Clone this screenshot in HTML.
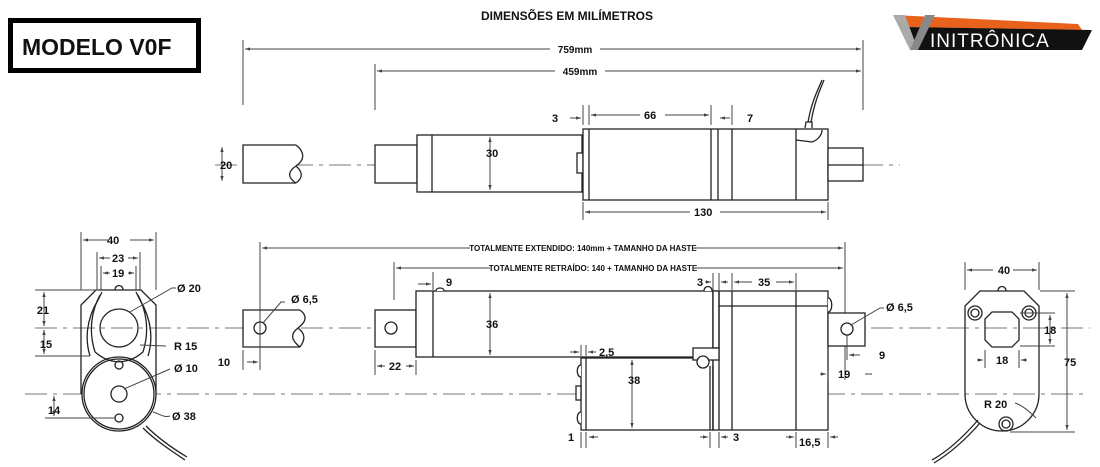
<!DOCTYPE html>
<html><head><meta charset="utf-8"><style>
html,body{margin:0;padding:0;background:#fff}
svg{display:block}
text{font-family:"Liberation Sans",sans-serif;fill:#111}
.d{font-size:11px;font-weight:bold}
</style></head><body>
<svg width="1100" height="467" viewBox="0 0 1100 467" xmlns="http://www.w3.org/2000/svg">
<defs>
<marker id="a" viewBox="0 0 6 6" refX="6" refY="3" markerWidth="5" markerHeight="5" orient="auto-start-reverse"><path d="M0,1 L6,3 L0,5z" fill="#444"/></marker>
</defs>
<!-- Model box -->
<rect x="10.5" y="20.5" width="188" height="50" fill="none" stroke="#000" stroke-width="5"/>
<text x="22" y="55" font-size="23" font-weight="bold">MODELO V0F</text>
<text x="567" y="20" font-size="12" font-weight="bold" text-anchor="middle">DIMENSÕES EM MILÍMETROS</text>
<!-- Logo -->
<polygon points="893,15 1078,24 1082,30 905,27" fill="#e8621c"/>
<polygon points="905,27 1092,30 1082,50 918,50" fill="#111"/>
<polygon points="893,15 905,15 918,50 910,50" fill="#aaa"/>
<polygon points="910,50 925,15 935,15 918,50" fill="#888"/>
<text x="930" y="47" font-size="19" style="fill:#fff" letter-spacing="1">INITRÔNICA</text>

<g stroke="#444" stroke-width="1" fill="none">
<!-- top dims -->
<line x1="243" y1="40" x2="243" y2="105"/><line x1="375" y1="64" x2="375" y2="110"/><line x1="863" y1="40" x2="863" y2="110"/>
<line x1="245" y1="49" x2="550" y2="49" marker-start="url(#a)"/><line x1="600" y1="49" x2="861" y2="49" marker-end="url(#a)"/>
<line x1="377" y1="71" x2="555" y2="71" marker-start="url(#a)"/><line x1="605" y1="71" x2="861" y2="71" marker-end="url(#a)"/>
</g>
<text x="575" y="53" class="d" font-size="10" text-anchor="middle" font-weight="bold" style="font-size:10px">759mm</text>
<text x="580" y="75" class="d" text-anchor="middle" style="font-size:10px">459mm</text>

<!-- centerlines -->
<g stroke="#777" stroke-width="1" stroke-dasharray="22,6,4,6">
<line x1="215" y1="165" x2="900" y2="165"/>
<line x1="35" y1="328" x2="1090" y2="328"/>
<line x1="25" y1="394" x2="1085" y2="394"/>
</g>

<!-- Top view actuator -->
<g stroke="#222" stroke-width="1.3" fill="#fff">
<path d="M296,145 L243,145 L243,183 L296,183"/>
<path d="M296,145 C305,152 305,160 296,166 C287,172 288,178 296,183 M296,166 C303,172 303,178 296,183" fill="none"/>
<rect x="375" y="145" width="42" height="38"/>
<rect x="417" y="135" width="165" height="57"/>
<line x1="432" y1="135" x2="432" y2="192"/>
<rect x="577" y="153" width="6" height="20"/>
<rect x="583" y="129" width="245" height="71"/>
<line x1="589" y1="129" x2="589" y2="200"/>
<line x1="711" y1="129" x2="711" y2="200"/><line x1="718" y1="129" x2="718" y2="200"/><line x1="732" y1="129" x2="732" y2="200"/>
<line x1="796" y1="129" x2="796" y2="200"/>
<path d="M796,140 L812,142 C818,140 822,135 822,130" fill="none"/>
<rect x="828" y="148" width="35" height="33"/>
<line x1="828" y1="165" x2="863" y2="165"/>
<path d="M805,128 L806,122 L812,122 L812,128" />
<path d="M808,122 C812,100 818,90 822,80 M811,122 C815,100 820,90 824,80" fill="none"/>
</g>
<g stroke="#444" stroke-width="1" fill="none">
<line x1="222" y1="147" x2="222" y2="181" marker-start="url(#a)" marker-end="url(#a)"/>
<line x1="490" y1="137" x2="490" y2="190" marker-start="url(#a)" marker-end="url(#a)"/>
<line x1="583" y1="105" x2="583" y2="125"/><line x1="589" y1="105" x2="589" y2="125"/><line x1="711" y1="105" x2="711" y2="125"/><line x1="732" y1="105" x2="732" y2="125"/>
<line x1="570" y1="118" x2="581" y2="118" marker-end="url(#a)"/>
<line x1="591" y1="115" x2="640" y2="115" marker-start="url(#a)"/><line x1="665" y1="115" x2="709" y2="115" marker-end="url(#a)"/>
<line x1="720" y1="118" x2="730" y2="118" marker-start="url(#a)"/>
<line x1="583" y1="202" x2="583" y2="220"/><line x1="828" y1="202" x2="828" y2="220"/>
<line x1="585" y1="212" x2="690" y2="212" marker-start="url(#a)"/><line x1="720" y1="212" x2="826" y2="212" marker-end="url(#a)"/>
</g>
<text x="220" y="169" class="d">20</text><text x="486" y="157" class="d">30</text>
<text x="552" y="122" class="d">3</text><text x="644" y="119" class="d">66</text><text x="747" y="122" class="d">7</text>
<text x="694" y="216" class="d">130</text>

<!-- Left end view -->
<g stroke="#222" stroke-width="1.3" fill="none">
<path d="M81,394 L81,305 L96,290 L141,290 L156,305 L156,394"/>
<circle cx="119" cy="394" r="37" fill="#fff"/><circle cx="119" cy="394" r="35"/>
<path d="M90,356 C85,340 86,320 98,300 L102,292 M148,356 C153,340 152,320 140,300 L136,292"/>
<path d="M95,352 C88,330 92,310 100,295 M143,352 C150,330 146,310 138,295"/>
<path d="M95,352 C110,365 128,365 143,352"/>
<circle cx="119" cy="328" r="19"/>
<circle cx="119" cy="394" r="8"/>
<circle cx="119" cy="365" r="4"/><circle cx="119" cy="418" r="4"/>
<path d="M115,290 C115,284 123,284 123,290"/>
<path d="M143,428 C155,440 170,450 185,460 M146,426 C158,438 172,448 187,457"/>
</g>
<g stroke="#444" stroke-width="1" fill="none">
<line x1="81" y1="232" x2="81" y2="290"/><line x1="156" y1="232" x2="156" y2="290"/>
<line x1="83" y1="240" x2="108" y2="240" marker-start="url(#a)"/><line x1="130" y1="240" x2="154" y2="240" marker-end="url(#a)"/>
<line x1="97" y1="252" x2="97" y2="290"/><line x1="140" y1="252" x2="140" y2="290"/>
<line x1="99" y1="258" x2="110" y2="258" marker-start="url(#a)"/><line x1="128" y1="258" x2="138" y2="258" marker-end="url(#a)"/>
<line x1="101" y1="266" x2="101" y2="290"/><line x1="136" y1="266" x2="136" y2="290"/>
<line x1="103" y1="273" x2="110" y2="273" marker-start="url(#a)"/><line x1="128" y1="273" x2="134" y2="273" marker-end="url(#a)"/>
<line x1="35" y1="290" x2="100" y2="290"/><line x1="35" y1="356" x2="90" y2="356"/><line x1="45" y1="418" x2="115" y2="418"/>
<line x1="44" y1="292" x2="44" y2="326" marker-start="url(#a)" marker-end="url(#a)"/>
<line x1="44" y1="330" x2="44" y2="354" marker-start="url(#a)" marker-end="url(#a)"/>
<line x1="54" y1="396" x2="54" y2="416" marker-start="url(#a)" marker-end="url(#a)"/>
<path d="M130,312 L172,288 L176,288"/><path d="M140,345 L166,346"/><path d="M124,389 L170,369"/><path d="M153,412 C160,414 164,418 170,416"/>
</g>
<text x="43" y="314" class="d" text-anchor="middle">21</text><text x="46" y="348" class="d" text-anchor="middle">15</text><text x="54" y="414" class="d" text-anchor="middle">14</text>
<text x="107" y="244" class="d">40</text><text x="112" y="262" class="d">23</text><text x="112" y="277" class="d">19</text>
<text x="177" y="292" class="d">Ø 20</text><text x="174" y="350" class="d">R 15</text><text x="174" y="372" class="d">Ø 10</text><text x="172" y="420" class="d">Ø 38</text>

<!-- Middle clevis -->
<g stroke="#222" stroke-width="1.3" fill="#fff">
<path d="M300,310 L243,310 L243,347 L300,347"/>
<path d="M300,310 C308,316 306,322 298,328 C290,334 291,340 300,347 M298,328 C306,334 305,340 300,347" fill="none"/>
<circle cx="260" cy="328" r="6"/>
</g>
<g stroke="#444" stroke-width="1" fill="none">
<line x1="260" y1="242" x2="260" y2="370"/><line x1="243" y1="350" x2="243" y2="370"/>
<line x1="247" y1="362" x2="258" y2="362" marker-end="url(#a)"/>
<path d="M263,323 L281,302 L285,302"/>
<line x1="262" y1="248" x2="470" y2="248" marker-start="url(#a)"/><line x1="695" y1="248" x2="843" y2="248" marker-end="url(#a)"/>
<line x1="845" y1="242" x2="845" y2="380"/>
<line x1="394" y1="262" x2="394" y2="300"/>
<line x1="396" y1="268" x2="490" y2="268" marker-start="url(#a)"/><line x1="695" y1="268" x2="843" y2="268" marker-end="url(#a)"/>
</g>
<text x="224" y="366" class="d" text-anchor="middle">10</text><text x="291" y="303" class="d">Ø 6,5</text>
<text x="583" y="251" text-anchor="middle" style="font-size:8px;font-weight:bold">TOTALMENTE EXTENDIDO: 140mm + TAMANHO DA HASTE</text>
<text x="593" y="271" text-anchor="middle" style="font-size:8px;font-weight:bold">TOTALMENTE RETRAÍDO: 140 + TAMANHO DA HASTE</text>

<!-- Bottom side view -->
<g stroke="#222" stroke-width="1.3" fill="#fff">
<rect x="375" y="310" width="41" height="37"/>
<circle cx="391" cy="328" r="6"/>
<rect x="416" y="291" width="297" height="66"/>
<line x1="433" y1="291" x2="433" y2="357"/>
<path d="M436,291 C436,287 444,287 444,291"/>
<rect x="581" y="358" width="132" height="72"/>
<line x1="586" y1="358" x2="586" y2="430"/>
<path d="M581,365 C576,365 576,377 581,377 M581,412 C576,412 576,424 581,424"/><rect x="576" y="386" width="5" height="14"/>
<rect x="713" y="291" width="115" height="139"/>
<rect x="713" y="291" width="6" height="57"/>
<line x1="719" y1="306" x2="828" y2="306"/>
<line x1="719" y1="291" x2="719" y2="430"/><line x1="732" y1="291" x2="732" y2="430"/><line x1="796" y1="291" x2="796" y2="430"/>
<rect x="693" y="348" width="26" height="12"/><circle cx="703" cy="362" r="6"/>
<line x1="710" y1="366" x2="710" y2="430"/><line x1="713" y1="366" x2="713" y2="430"/>
<path d="M704,291 C704,285 712,285 712,291"/>
<path d="M828,298 C833,298 833,312 828,312"/>
<rect x="828" y="313" width="37" height="33"/>
<circle cx="847" cy="329" r="6"/>
</g>
<g stroke="#444" stroke-width="1" fill="none">
<line x1="490" y1="293" x2="490" y2="355" marker-start="url(#a)" marker-end="url(#a)"/>
<line x1="632" y1="360" x2="632" y2="428" marker-start="url(#a)" marker-end="url(#a)"/>
<line x1="433" y1="272" x2="433" y2="290"/><line x1="418" y1="284" x2="431" y2="284" marker-end="url(#a)"/>
<line x1="375" y1="350" x2="375" y2="375"/><line x1="416" y1="360" x2="416" y2="375"/>
<line x1="377" y1="366" x2="385" y2="366" marker-start="url(#a)"/><line x1="406" y1="366" x2="414" y2="366" marker-end="url(#a)"/>
<line x1="581" y1="345" x2="581" y2="356"/><line x1="586" y1="345" x2="586" y2="356"/>
<line x1="570" y1="352" x2="579" y2="352" marker-end="url(#a)"/><line x1="588" y1="352" x2="596" y2="352" marker-start="url(#a)"/>
<line x1="581" y1="432" x2="581" y2="448"/><line x1="586" y1="432" x2="586" y2="448"/>
<line x1="589" y1="437" x2="598" y2="437" marker-start="url(#a)"/>
<line x1="710" y1="432" x2="710" y2="448"/><line x1="719" y1="432" x2="719" y2="448"/>
<line x1="700" y1="437" x2="708" y2="437" marker-end="url(#a)"/><line x1="721" y1="437" x2="728" y2="437" marker-start="url(#a)"/>
<line x1="796" y1="432" x2="796" y2="448"/><line x1="828" y1="432" x2="828" y2="448"/>
<line x1="786" y1="437" x2="794" y2="437" marker-end="url(#a)"/><line x1="830" y1="437" x2="838" y2="437" marker-start="url(#a)"/>
<line x1="713" y1="273" x2="713" y2="290"/><line x1="719" y1="273" x2="719" y2="290"/><line x1="732" y1="273" x2="732" y2="290"/><line x1="796" y1="273" x2="796" y2="290"/>
<line x1="705" y1="282" x2="711" y2="282" marker-end="url(#a)"/><line x1="721" y1="282" x2="728" y2="282" marker-start="url(#a)"/>
<line x1="734" y1="282" x2="752" y2="282" marker-start="url(#a)"/><line x1="776" y1="282" x2="794" y2="282" marker-end="url(#a)"/>
<line x1="847" y1="335" x2="847" y2="360"/>
<line x1="849" y1="355" x2="860" y2="355" marker-start="url(#a)"/>
<line x1="828" y1="370" x2="828" y2="380"/>
<line x1="820" y1="374" x2="826" y2="374" marker-end="url(#a)"/><line x1="865" y1="374" x2="872" y2="374"/>
<path d="M851,325 L880,308 L884,308"/>
</g>
<text x="395" y="370" class="d" text-anchor="middle">22</text><text x="446" y="286" class="d">9</text>
<text x="486" y="328" class="d">36</text><text x="628" y="384" class="d">38</text>
<text x="599" y="356" class="d">2,5</text><text x="568" y="441" class="d">1</text><text x="733" y="441" class="d">3</text>
<text x="799" y="446" class="d">16,5</text><text x="697" y="286" class="d">3</text><text x="758" y="286" class="d">35</text>
<text x="879" y="359" class="d">9</text><text x="838" y="378" class="d">19</text><text x="886" y="311" class="d">Ø 6,5</text>

<!-- Right end view -->
<g stroke="#222" stroke-width="1.3" fill="none">
<path d="M965,394 L965,306 L980,291 L1024,291 L1039,306 L1039,394 A37,37 0 0 1 965,394 Z"/>
<path d="M998,291 C998,285 1006,285 1006,291"/>
<polygon points="992,312 1012,312 1019,319 1019,340 1012,347 992,347 985,340 985,319"/>
<circle cx="975" cy="313" r="7"/><circle cx="975" cy="313" r="4"/>
<circle cx="1029" cy="313" r="7"/><circle cx="1029" cy="313" r="4"/>
<circle cx="1006" cy="424" r="7"/><circle cx="1006" cy="424" r="4"/>
<path d="M978,420 C965,435 950,450 932,460 M980,423 C967,438 952,452 934,463"/>
</g>
<g stroke="#444" stroke-width="1" fill="none">
<line x1="965" y1="262" x2="965" y2="290"/><line x1="1039" y1="262" x2="1039" y2="290"/>
<line x1="967" y1="270" x2="993" y2="270" marker-start="url(#a)"/><line x1="1013" y1="270" x2="1037" y2="270" marker-end="url(#a)"/>
<line x1="1040" y1="291" x2="1075" y2="291"/><line x1="1010" y1="432" x2="1075" y2="432"/>
<line x1="1067" y1="293" x2="1067" y2="430" marker-start="url(#a)" marker-end="url(#a)"/>
<line x1="1020" y1="313" x2="1055" y2="313"/><line x1="1020" y1="346" x2="1055" y2="346"/>
<line x1="1050" y1="315" x2="1050" y2="344" marker-start="url(#a)" marker-end="url(#a)"/>
<line x1="985" y1="350" x2="985" y2="368"/><line x1="1019" y1="350" x2="1019" y2="368"/>
<line x1="977" y1="360" x2="983" y2="360" marker-end="url(#a)"/><line x1="1021" y1="360" x2="1027" y2="360" marker-start="url(#a)"/>
<path d="M1015,403 C1022,405 1030,412 1036,418"/>
</g>
<text x="1004" y="274" class="d" text-anchor="middle">40</text><text x="1044" y="334" class="d">18</text><text x="996" y="364" class="d">18</text>
<text x="1064" y="366" class="d">75</text><text x="984" y="408" class="d">R  20</text>
</svg>
</body></html>
